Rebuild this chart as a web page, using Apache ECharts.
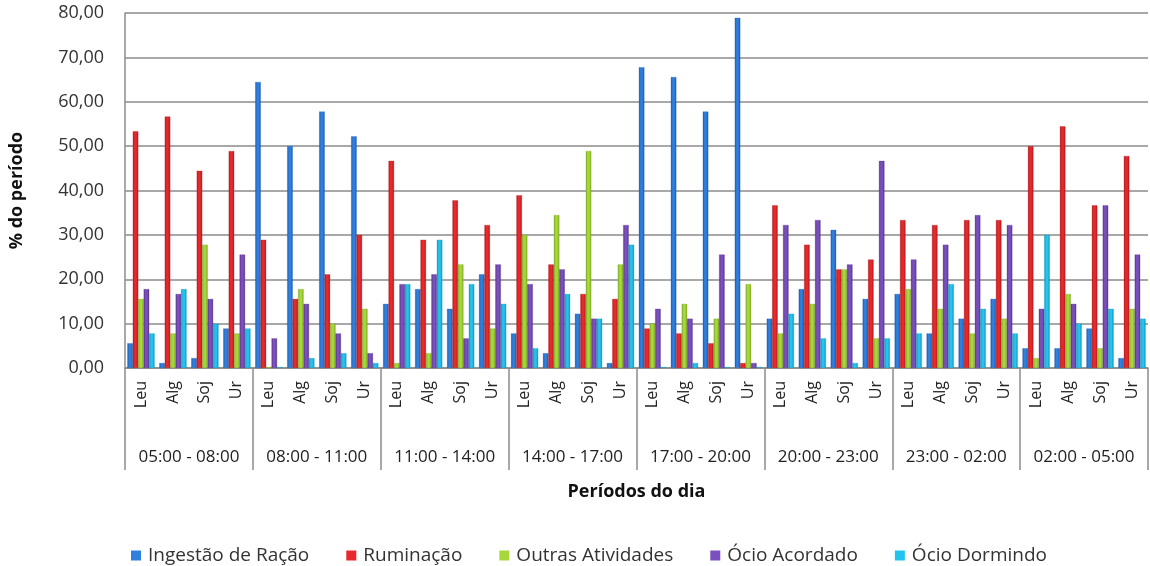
<!DOCTYPE html>
<html>
<head>
<meta charset="utf-8">
<script src="https://cdn.jsdelivr.net/npm/echarts@6/dist/echarts.min.js"></script>
<style>html,body{margin:0;padding:0;background:#fff}#c{width:1150px;height:566px}</style>
</head>
<body>
<div id="c"></div>
<script>
const periods = ['05:00 - 08:00','08:00 - 11:00','11:00 - 14:00','14:00 - 17:00','17:00 - 20:00','20:00 - 23:00','23:00 - 02:00','02:00 - 05:00'];
const animals = ['Leu','Alg','Soj','Ur'];
const seriesNames = ['Ingestão de Ração','Ruminação','Outras Atividades','Ócio Acordado','Ócio Dormindo'];
const yTicks = [0,10,20,30,40,50,60,70,80];

const ingestao = [5.56,1.11,2.22,8.89, 64.44,50.00,57.78,52.22, 14.44,17.78,13.33,21.11, 7.78,3.33,12.22,1.11, 67.78,65.56,57.78,78.89, 11.11,17.78,31.11,15.56, 16.67,7.78,11.11,15.56, 4.44,4.44,8.89,2.22];
const ruminacao = [53.33,56.67,44.44,48.89, 28.89,15.56,21.11,30.00, 46.67,28.89,37.78,32.22, 38.89,23.33,16.67,15.56, 8.89,7.78,5.56,1.11, 36.67,27.78,22.22,24.44, 33.33,32.22,33.33,33.33, 50.00,54.44,36.67,47.78];
const outras = [15.56,7.78,27.78,7.78, 0,17.78,10.00,13.33, 1.11,3.33,23.33,8.89, 30.00,34.44,48.89,23.33, 10.00,14.44,11.11,18.89, 7.78,14.44,22.22,6.67, 17.78,13.33,7.78,11.11, 2.22,16.67,4.44,13.33];
const ocioAcordado = [17.78,16.67,15.56,25.56, 6.67,14.44,7.78,3.33, 18.89,21.11,6.67,23.33, 18.89,22.22,11.11,32.22, 13.33,11.11,25.56,1.11, 32.22,33.33,23.33,46.67, 24.44,27.78,34.44,32.22, 13.33,14.44,36.67,25.56];
const ocioDormindo = [7.78,17.78,10.00,8.89, 0,2.22,3.33,1.11, 18.89,28.89,18.89,14.44, 4.44,16.67,11.11,27.78, 0,1.11,0,0, 12.22,6.67,1.11,6.67, 7.78,18.89,13.33,7.78, 30.00,10.00,13.33,11.11];

const values = [ingestao, ruminacao, outras, ocioAcordado, ocioDormindo];
const colors = ['#2e7fde','#e8282b','#a6d83a','#7b4fbd','#22c4ee'];
const darks = ['#1a5cb0','#b01c1e','#7fa82a','#5a3690','#1597bb'];

const cats = [];
periods.forEach(() => animals.forEach(a => cats.push(a)));

const FONT = 'Open Sans';
const chart = echarts.init(document.getElementById('c'), null, {renderer:'canvas'});
chart.setOption({
  animation:false,
  textStyle:{fontFamily:FONT},
  grid:{left:120,right:2,top:13,bottom:198,containLabel:false},
  legend:{
    data:seriesNames.map((n,i)=>({name:n,itemStyle:{color:colors[i],borderWidth:0}})),
    left:126, top:541, itemWidth:10, itemHeight:10, itemGap:37,
    icon:'rect',
    textStyle:{fontFamily:FONT,fontSize:19,color:'#333',padding:[0,0,0,2]}
  },
  xAxis:[
    {type:'category', data:cats, position:'bottom',
     axisLine:{show:true,lineStyle:{color:'#8c8c8c',width:1.5}},
     axisTick:{show:false},
     axisLabel:{interval:0,rotate:90,fontFamily:FONT,fontSize:16,color:'#222',margin:13}},
    {type:'category', data:periods, position:'bottom',
     axisLine:{show:false},
     axisTick:{show:true,length:102,lineStyle:{color:'#8c8c8c',width:1.5}},
     axisLabel:{interval:0,fontFamily:FONT,fontSize:17,color:'#222',margin:81},
     name:'Períodos do dia', nameLocation:'middle', nameGap:115,
     nameTextStyle:{fontFamily:FONT,fontSize:18,fontWeight:'bold',color:'#111'}}
  ],
  yAxis:{type:'value', min:yTicks[0], max:yTicks[yTicks.length-1], interval:10,
    name:'% do período', nameLocation:'middle', nameGap:99,
    nameTextStyle:{fontFamily:FONT,fontSize:18,fontWeight:'bold',color:'#111'},
    axisLine:{show:true,lineStyle:{color:'#8c8c8c',width:1.5}},
    axisTick:{show:false},
    axisLabel:{fontFamily:FONT,fontSize:18,color:'#333',margin:21,
      formatter:v=>v.toFixed(2).replace('.',',')},
    splitLine:{lineStyle:{color:'#a8a8a8',width:2}}
  },
  series: seriesNames.map((n,i)=>({
    name:n, type:'bar', xAxisIndex:0, data:values[i],
    barGap:'0%', barCategoryGap:'15%', barMinHeight:1,
    itemStyle:{
      color:new echarts.graphic.LinearGradient(0,0,1,0,[
        {offset:0,color:darks[i]},{offset:0.35,color:colors[i]},{offset:0.6,color:colors[i]},{offset:1,color:darks[i]}]),
      borderColor:darks[i], borderWidth:0.3
    }
  }))
});
</script>
</body>
</html>
